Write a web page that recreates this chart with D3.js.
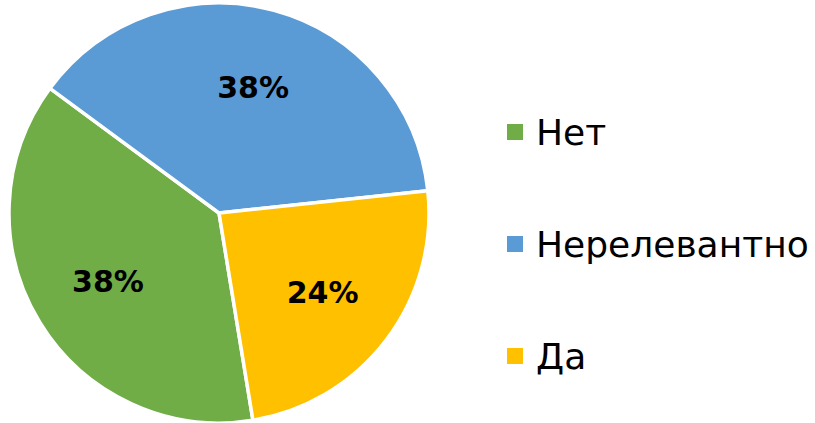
<!DOCTYPE html>
<html><head><meta charset="utf-8">
<script src="https://cdn.jsdelivr.net/npm/d3@7/dist/d3.min.js"></script>
<style>body{margin:0;background:#fff}svg{display:block}</style>
</head><body>
<svg id="c" width="815" height="423"></svg>
<script>
const categories = ["Нет", "Нерелевантно", "Да"];
const values = [37.7, 38.2, 24.1];
const labels = ["38%", "38%", "24%"];
const colors = ["#70AD47", "#5B9BD5", "#FFC000"];

const svg = d3.select("#c");
const cx = 219, cy = 213, R = 210;
const start = 170.7 * Math.PI / 180;
const pie = d3.pie().sort(null).startAngle(start).endAngle(start + 2 * Math.PI);
const arcs = pie(values);
const arc = d3.arc().innerRadius(0).outerRadius(R);
const labelArc = d3.arc().innerRadius(R * 0.62).outerRadius(R * 0.62);
const color = d3.scaleOrdinal().domain(categories).range(colors);

const g = svg.append("g").attr("transform", `translate(${cx},${cy})`);
g.selectAll("path").data(arcs).join("path")
  .attr("d", arc)
  .attr("fill", (d, i) => color(categories[i]))
  .attr("stroke", "#fff").attr("stroke-width", 3.5).attr("stroke-linejoin", "round");

g.selectAll("text").data(arcs).join("text")
  .attr("transform", d => `translate(${labelArc.centroid(d)})`)
  .attr("text-anchor", "middle").attr("dy", "0.36em")
  .attr("font-family", "DejaVu Sans, Verdana, sans-serif")
  .attr("font-weight", "bold").attr("font-size", 30)
  .attr("fill", "#000")
  .text((d, i) => labels[i]);

const ly = d3.scalePoint().domain(categories).range([132, 356]);
const leg = svg.append("g").selectAll("g").data(categories).join("g")
  .attr("transform", d => `translate(507,${ly(d)})`);
leg.append("rect").attr("x", 0).attr("y", -8).attr("width", 16).attr("height", 16)
  .attr("fill", d => color(d));
leg.append("text").attr("x", 29).attr("y", 0).attr("dy", "0.36em")
  .attr("font-family", "DejaVu Sans, Verdana, sans-serif")
  .attr("font-size", 36).attr("fill", "#000")
  .text(d => d);
</script>
</body></html>
